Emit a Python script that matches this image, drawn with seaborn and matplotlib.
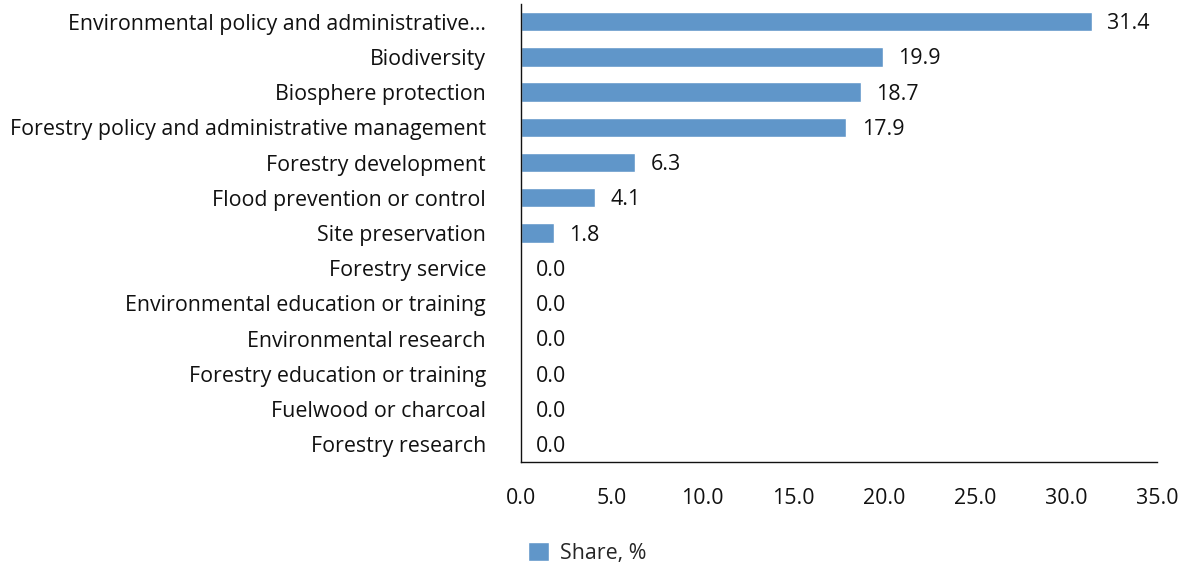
import matplotlib
matplotlib.use("Agg")
import matplotlib.pyplot as plt
import seaborn as sns
import pandas as pd
from matplotlib.patches import Patch

categories = [
    "Environmental policy and administrative…",
    "Biodiversity",
    "Biosphere protection",
    "Forestry policy and administrative management",
    "Forestry development",
    "Flood prevention or control",
    "Site preservation",
    "Forestry service",
    "Environmental education or training",
    "Environmental research",
    "Forestry education or training",
    "Fuelwood or charcoal",
    "Forestry research",
]
share = [31.4, 19.9, 18.7, 17.9, 6.3, 4.1, 1.8, 0.0, 0.0, 0.0, 0.0, 0.0, 0.0]
x_ticks = [0, 5, 10, 15, 20, 25, 30, 35]
series_name = "Share, %"

df = pd.DataFrame({"category": categories, "share": share})

sns.set_theme(style="white")
plt.rcParams["font.family"] = ["Open Sans", "DejaVu Sans"]

bar_color = "#6096C9"
text_color = "#111111"
fs = 15.4

fig = plt.figure(figsize=(11.81, 5.69), dpi=100)
ax = fig.add_axes([0.441, 0.188, 0.539, 0.805])

sns.barplot(data=df, x="share", y="category", color=bar_color, width=0.55,
            saturation=1, ax=ax)

for i, v in enumerate(share):
    ax.annotate(f"{v:.1f}", xy=(v, i), xytext=(11, -1.5), textcoords="offset points",
                va="center", ha="left", fontsize=fs, color=text_color)

ax.set_xlim(0, 35)
ax.set_xticks(x_ticks)
ax.set_xticklabels([f"{t:.1f}" for t in x_ticks])
ax.set_xlabel("")
ax.set_ylabel("")
ax.tick_params(axis="y", length=0, pad=25, labelsize=fs, labelcolor=text_color)
ax.tick_params(axis="x", length=0, pad=19, labelsize=fs, labelcolor=text_color)

for side in ["top", "right"]:
    ax.spines[side].set_visible(False)
for side in ["left", "bottom"]:
    ax.spines[side].set_color(text_color)
    ax.spines[side].set_linewidth(1.0)

fig.legend(handles=[Patch(facecolor=bar_color, label=series_name)],
           loc="center", bbox_to_anchor=(0.497, 0.028), frameon=False,
           fontsize=fs, handlelength=1.0, handleheight=1.0, handletextpad=0.5)

fig.savefig("out.png", dpi=100)
